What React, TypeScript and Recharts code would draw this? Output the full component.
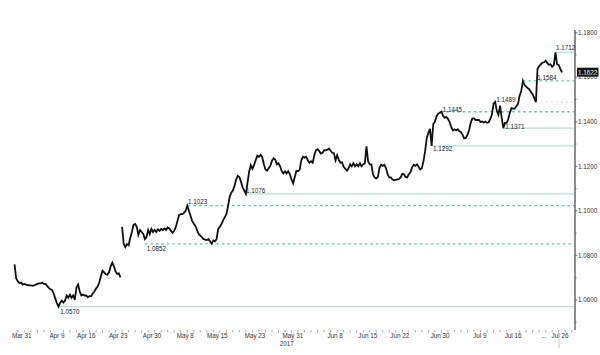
import React from 'react';
import { LineChart, Line, XAxis, YAxis, ReferenceLine, ReferenceDot } from 'recharts';

// x unit: trading-day index (weekends removed), 0 = Mar 31 2017; readings every quarter day
const DAY_STEP = 0.25;
const preGapStartDay = -0.5;
const preGapPrices = [
  1.0760, 1.0696,
  1.0683, 1.0676, 1.0678, 1.0669,
  1.0672, 1.0669, 1.0667, 1.0665,
  1.0665, 1.0663, 1.0665, 1.0669,
  1.0672, 1.0674, 1.0674, 1.0678,
  1.0672, 1.0672, 1.0663, 1.0654,
  1.0648, 1.0645, 1.0629, 1.0606,
  1.0586, 1.0570, 1.0588, 1.0597,
  1.0588, 1.0597, 1.0620, 1.0610,
  1.0624, 1.0610, 1.0620, 1.0601,
  1.0656, 1.0669, 1.0638, 1.0620,
  1.0624, 1.0620, 1.0620, 1.0613,
  1.0617, 1.0617, 1.0629, 1.0638,
  1.0651, 1.0660, 1.0678, 1.0706,
  1.0731, 1.0724, 1.0715, 1.0713,
  1.0724, 1.0751, 1.0767, 1.0751,
  1.0728, 1.0717, 1.0719, 1.0701,
];
const postGapStartDay = 16;
const postGapPrices = [
  1.0928, 1.0851, 1.0837, 1.0851,
  1.0846, 1.0878, 1.0905, 1.0937,
  1.0941, 1.0928, 1.0892, 1.0914,
  1.0905, 1.0896, 1.0873, 1.0882,
  1.0914, 1.0896, 1.0919, 1.0905,
  1.0914, 1.0905, 1.0917, 1.0910,
  1.0919, 1.0914, 1.0921, 1.0914,
  1.0925, 1.0921, 1.0910, 1.0901,
  1.0910, 1.0928, 1.0955, 1.0982,
  1.0985, 1.0985, 1.0991, 1.1000,
  1.1023, 1.1000, 1.0978, 1.0955,
  1.0942, 1.0932, 1.0914, 1.0896,
  1.0889, 1.0882, 1.0873, 1.0871,
  1.0869, 1.0873, 1.0863, 1.0852,
  1.0867, 1.0863, 1.0873, 1.0919,
  1.0928, 1.0941, 1.0957, 1.0971,
  1.0985, 1.1019, 1.1062, 1.1082,
  1.1091, 1.1112, 1.1141, 1.1157,
  1.1152, 1.1130, 1.1105, 1.1091,
  1.1076, 1.1127, 1.1177, 1.1205,
  1.1189, 1.1205, 1.1227, 1.1248,
  1.1243, 1.1252, 1.1241, 1.1209,
  1.1186, 1.1180, 1.1191, 1.1202,
  1.1225, 1.1236, 1.1230, 1.1209,
  1.1214, 1.1200, 1.1178, 1.1168,
  1.1178, 1.1168, 1.1178, 1.1164,
  1.1141, 1.1123, 1.1152, 1.1180,
  1.1178, 1.1184, 1.1227, 1.1243,
  1.1239, 1.1243, 1.1227, 1.1216,
  1.1223, 1.1216, 1.1250, 1.1273,
  1.1277, 1.1268, 1.1257, 1.1261,
  1.1272, 1.1272, 1.1275, 1.1279,
  1.1270, 1.1261, 1.1259, 1.1227,
  1.1250, 1.1230, 1.1216, 1.1218,
  1.1198, 1.1189, 1.1180, 1.1191,
  1.1209, 1.1200, 1.1214, 1.1200,
  1.1209, 1.1200, 1.1214, 1.1200,
  1.1209, 1.1214, 1.1290, 1.1223,
  1.1209, 1.1209, 1.1164, 1.1150,
  1.1146, 1.1152, 1.1193, 1.1207,
  1.1202, 1.1207, 1.1191, 1.1164,
  1.1150, 1.1150, 1.1141, 1.1137,
  1.1139, 1.1141, 1.1143, 1.1150,
  1.1166, 1.1164, 1.1152, 1.1150,
  1.1164, 1.1173, 1.1195, 1.1207,
  1.1202, 1.1209, 1.1198, 1.1186,
  1.1191, 1.1223, 1.1268, 1.1327,
  1.1350, 1.1368, 1.1292, 1.1390,
  1.1400, 1.1424, 1.1436, 1.1440,
  1.1445, 1.1427, 1.1418, 1.1422,
  1.1413, 1.1400, 1.1377, 1.1361,
  1.1366, 1.1361, 1.1366, 1.1357,
  1.1354, 1.1341, 1.1325, 1.1327,
  1.1341, 1.1363, 1.1395, 1.1415,
  1.1415, 1.1408, 1.1408, 1.1408,
  1.1399, 1.1401, 1.1397, 1.1401,
  1.1396, 1.1397, 1.1413, 1.1431,
  1.1481, 1.1489, 1.1449, 1.1431,
  1.1472, 1.1418, 1.1371, 1.1395,
  1.1395, 1.1411, 1.1440, 1.1461,
  1.1459, 1.1459, 1.1470, 1.1479,
  1.1517, 1.1538, 1.1584, 1.1566,
  1.1558, 1.1551, 1.1545, 1.1533,
  1.1524, 1.1506, 1.1488, 1.1638,
  1.1649, 1.1658, 1.1665, 1.1667,
  1.1674, 1.1663, 1.1656, 1.1658,
  1.1647, 1.1654, 1.1712, 1.1658,
  1.1654, 1.1638, 1.1622,
];
const lastPrice = 1.1622;

// Marked levels
const levelValues = [1.0570, 1.0852, 1.1023, 1.1076, 1.1292, 1.1371, 1.1445, 1.1489, 1.1584, 1.1712];
const levelStartDays = [6.5, 19.5, 26.1, 34.9, 63.5, 74.5, 64.9, 79.5, 77.5, 82.6];
const levelLabelDays = [6.5, 19.8, 26.1, 35.0, 63.7, 74.8, 65.2, 73.4, 79.7, 82.6];
const levelKinds = ['solid', 'dashed', 'dashed', 'solid', 'solid', 'solid', 'dashed', 'faint', 'dashed', 'solid'];

// Axis ticks
const xLabelDays = [0.6, 6.0, 10.5, 15.4, 20.6, 25.7, 30.6, 36.4, 42.2, 48.7, 53.7, 58.6, 64.8, 70.9, 76.0, 83.2];
const xLabels = ['Mar 31', 'Apr 9', 'Apr 16', 'Apr 23', 'Apr 30', 'May 8', 'May 15', 'May 23', 'May 31', 'Jun 8', 'Jun 15', 'Jun 22', 'Jun 30', 'Jul 9', 'Jul 16', 'Jul 26'];
const yearLabel = '2017';
const yTickValues = [1.05, 1.06, 1.07, 1.08, 1.09, 1.10, 1.11, 1.12, 1.13, 1.14, 1.15, 1.16, 1.17, 1.18];

const X_DOMAIN: [number, number] = [-1.2, 85.5];
const Y_DOMAIN: [number, number] = [1.0465, 1.1812];

const FONT = '"Liberation Sans", Arial, sans-serif';
const FS = 6.3;

const series: { day: number; price: number | null }[] = [];
preGapPrices.forEach((p, i) => series.push({ day: preGapStartDay + i * DAY_STEP, price: p }));
series.push({ day: (preGapStartDay + (preGapPrices.length - 1) * DAY_STEP + postGapStartDay) / 2, price: null });
postGapPrices.forEach((p, i) => series.push({ day: postGapStartDay + i * DAY_STEP, price: p }));

const minorDayTicks: number[] = [];
for (let d = 0; d <= 85; d++) minorDayTicks.push(d);
const labelSet = new Map<number, string>();
xLabelDays.forEach((d, i) => labelSet.set(d, xLabels[i]));
const allXTicks = Array.from(new Set([...minorDayTicks.filter((d) => !labelSet.has(d)), ...xLabelDays])).sort((a, b) => a - b);

const lineStyles: Record<string, { stroke: string; strokeWidth: number; strokeDasharray?: string }> = {
  solid: { stroke: '#b7e2d6', strokeWidth: 1.2 },
  dashed: { stroke: '#5cc6a6', strokeWidth: 1.3, strokeDasharray: '2.5 3' },
  faint: { stroke: '#d6d6d6', strokeWidth: 1, strokeDasharray: '2 3' },
};
const labelDy = [7.7, 6.7, -2, -1, 5.5, 0.5, 0, 0, -0.7, -2];

const XTick = (props: any) => {
  const { x, y, payload } = props;
  const v = payload.value;
  const label = labelSet.get(v);
  if (label === undefined) {
    return <line x1={x} x2={x} y1={y} y2={y + 2.5} stroke="#999" strokeWidth={0.8} />;
  }
  return (
    <g>
      <text x={x} y={y + 8} textAnchor="middle" fontSize={FS} fontFamily={FONT} fill="#333">{label}</text>
      {label === 'May 31' && (
        <text x={x - 6} y={y + 16} textAnchor="middle" fontSize={FS} fontFamily={FONT} fill="#333">{yearLabel}</text>
      )}
      {label === 'Jul 26' && (
        <g>
          <text x={x - 16} y={y + 8} textAnchor="middle" fontSize={FS} fontFamily={FONT} fill="#333">...</text>
          <line x1={x - 1} x2={x - 1} y1={y + 3} y2={y + 18} stroke="#ccc" strokeWidth={1} />
        </g>
      )}
    </g>
  );
};

const YTick = (props: any) => {
  const { x, y, payload } = props;
  const v = payload.value as number;
  const major = Math.round(v * 100) % 2 === 0;
  return (
    <g>
      <line x1={x - 3} x2={x - (major ? 0.5 : 1.5)} y1={y} y2={y} stroke="#555" strokeWidth={0.8} />
      {major && (
        <text x={x} y={y + 2.2} fontSize={FS} fontFamily={FONT} fill="#333">{v.toFixed(4)}</text>
      )}
    </g>
  );
};

const LevelLabel = (props: any) => {
  const { viewBox, text, dy } = props;
  if (!viewBox) return null;
  return (
    <text x={viewBox.x + 1} y={viewBox.y + 1 + dy} fontSize={FS} fontFamily={FONT} fill="#222">{text}</text>
  );
};

const PriceBox = (props: any) => {
  const { viewBox, text } = props;
  if (!viewBox) return null;
  const cx = viewBox.x + 1;
  const cy = viewBox.y + 1;
  return (
    <g>
      <rect x={cx + 2} y={cy - 4.6} width={21.5} height={9} fill="#111" />
      <text x={cx + 3} y={cy + 2.2} fontSize={FS} fontFamily={FONT} fill="#fff">{text}</text>
    </g>
  );
};

export default function App() {
  return (
    <div style={{ position: 'absolute', left: 0, top: 0, width: 600, height: 355, background: '#fff' }}>
      <LineChart width={600} height={355} data={series} margin={{ top: 30, right: 0, bottom: 0, left: 10 }}>
        <XAxis
          type="number"
          dataKey="day"
          domain={X_DOMAIN}
          allowDataOverflow
          ticks={allXTicks}
          interval={0}
          tick={<XTick />}
          tickLine={false}
          axisLine={false}
          tickSize={0}
          tickMargin={0}
          height={25}
        />
        <YAxis
          orientation="right"
          type="number"
          domain={Y_DOMAIN}
          allowDataOverflow
          ticks={yTickValues}
          interval={0}
          tick={<YTick />}
          tickLine={false}
          tickSize={3}
          tickMargin={0}
          axisLine={{ stroke: '#8c8c8c', strokeWidth: 2 }}
          width={25}
        />
        {levelValues.map((v, i) => (
          <ReferenceLine
            key={'l' + i}
            segment={[{ x: levelStartDays[i], y: v }, { x: X_DOMAIN[1], y: v }]}
            {...lineStyles[levelKinds[i]]}
            ifOverflow="visible"
          />
        ))}
        <Line
          type="linear"
          dataKey="price"
          stroke="#111"
          strokeWidth={1.8}
          dot={false}
          isAnimationActive={false}
          connectNulls={false}
        />
        {levelValues.map((v, i) => (
          <ReferenceDot
            key={'d' + i}
            x={levelLabelDays[i]}
            y={v}
            r={1}
            fill="none"
            stroke="none"
            label={<LevelLabel text={v.toFixed(4)} dy={labelDy[i]} />}
          />
        ))}
        <ReferenceDot
          x={X_DOMAIN[1]}
          y={lastPrice}
          r={1}
          fill="none"
          stroke="none"
          ifOverflow="visible"
          label={<PriceBox text={lastPrice.toFixed(4)} />}
        />
      </LineChart>
    </div>
  );
}
